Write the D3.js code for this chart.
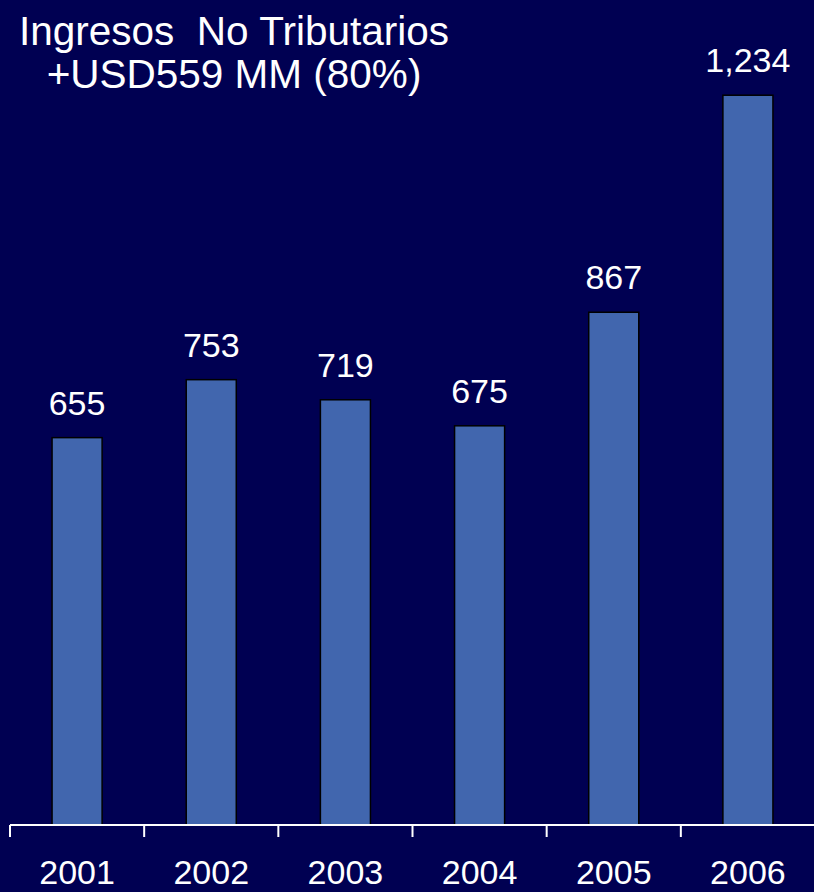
<!DOCTYPE html>
<html><head><meta charset="utf-8">
<script src="https://cdn.jsdelivr.net/npm/d3@7"></script>
<style>html,body{margin:0;padding:0;background:#000052;}svg{display:block;}</style>
</head><body>
<script>
const years = ["2001","2002","2003","2004","2005","2006"];
const values = [655, 753, 719, 675, 867, 1234];
const valueLabels = ["655","753","719","675","867","1,234"];
const titleLines = ["Ingresos  No Tributarios", "+USD559 MM (80%)"];

const W = 814, H = 892;
const svg = d3.select("body").append("svg").attr("width", W).attr("height", H);
svg.append("rect").attr("width", W).attr("height", H).attr("fill", "#000052");

const x = d3.scaleBand().domain(years).range([10, 815]).paddingInner(0.627).paddingOuter(0.3135);
const y = d3.scaleLinear().domain([0, 1395]).range([825, 0]);

svg.selectAll("rect.bar").data(values).enter().append("rect")
  .attr("class","bar")
  .attr("x", (d,i) => x(years[i]))
  .attr("width", x.bandwidth())
  .attr("y", d => y(d))
  .attr("height", d => y(0) - y(d))
  .attr("fill", "#4166ae")
  .attr("stroke", "#000")
  .attr("stroke-width", 1.5);

svg.selectAll("text.val").data(values).enter().append("text")
  .attr("class","val")
  .attr("x", (d,i) => x(years[i]) + x.bandwidth()/2)
  .attr("y", d => y(d) - 23)
  .attr("text-anchor","middle")
  .attr("font-family","Arial, 'Liberation Sans', sans-serif")
  .attr("font-size", 34)
  .attr("fill","#fff")
  .text((d,i) => valueLabels[i]);

// axis
const xAxisScale = d3.scaleBand().domain(years).range([10, 815]);
const axis = d3.axisBottom(xAxisScale).tickSize(0).tickFormat("");
const ag = svg.append("g").attr("transform","translate(0,825)").call(axis);
ag.select(".domain").remove();
ag.append("line").attr("x1",10).attr("x2",W).attr("y1",0).attr("y2",0)
  .attr("stroke","#fff").attr("stroke-width",2);
const bounds = years.map(yr => xAxisScale(yr)).concat([xAxisScale(years[years.length-1]) + xAxisScale.bandwidth()]);
ag.selectAll("line.tk").data(bounds).enter().append("line")
  .attr("class","tk")
  .attr("x1", d => d).attr("x2", d => d)
  .attr("y1", 0).attr("y2", 12)
  .attr("stroke","#fff").attr("stroke-width",2);

svg.selectAll("text.yr").data(years).enter().append("text")
  .attr("class","yr")
  .attr("x", d => xAxisScale(d) + xAxisScale.bandwidth()/2)
  .attr("y", 884)
  .attr("text-anchor","middle")
  .attr("font-family","Arial, 'Liberation Sans', sans-serif")
  .attr("font-size", 34)
  .attr("fill","#fff")
  .text(d => d);

svg.selectAll("text.title").data(titleLines).enter().append("text")
  .attr("class","title")
  .attr("x", 234)
  .attr("y", (d,i) => 45 + i*43)
  .attr("text-anchor","middle")
  .attr("font-family","Arial, 'Liberation Sans', sans-serif")
  .attr("font-size", 40.5)
  .attr("fill","#fff")
  .style("white-space","pre")
  .attr("xml:space","preserve")
  .text(d => d);
</script>
</body></html>
